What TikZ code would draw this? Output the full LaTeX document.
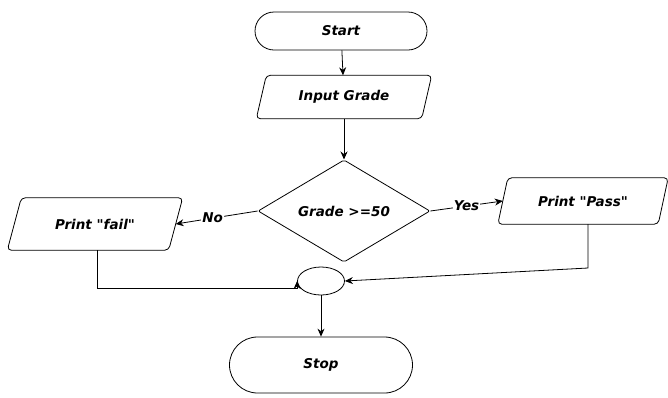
\documentclass[tikz,border=0pt]{standalone}
\usepackage{fontspec}
\setmainfont{DejaVu Sans}
\usetikzlibrary{shapes.geometric,shapes.misc,arrows.meta}
\begin{document}
\begin{tikzpicture}[x=1pt,y=-1pt,
  every node/.style={font=\bfseries\itshape\fontsize{13.5}{15}\selectfont},
  term/.style={draw,thick,rounded rectangle,inner sep=0pt},
  io/.style={inner sep=0pt},
  decision/.style={draw,thick,diamond,inner sep=0pt,rounded corners=2pt},
  joint/.style={draw,thick,ellipse,inner sep=0pt,minimum width=47pt,minimum height=28pt},
  slanted/.style={thick,rounded corners=4pt},
  flow/.style={thick,-{Stealth[length=8pt,width=7pt]}},
  lbl/.style={fill=white,inner sep=1pt}]
\useasboundingbox (0,0) rectangle (668,397);
\fill[white] (0,0) rectangle (668,397);

\node[term,minimum width=172pt,minimum height=38pt] (start) at (341,31) {Start};
\node[io,minimum width=165pt,minimum height=43pt] (input) at (344,97) {Input Grade};
\node[decision,minimum width=172pt,minimum height=102pt] (dec) at (344,211) {Grade >=50};
\node[io,minimum width=161pt,minimum height=52pt] (fail) at (95,224) {Print \textquotedbl fail\textquotedbl};
\node[io,minimum width=160pt,minimum height=46pt] (pass) at (583,201) {Print \textquotedbl Pass\textquotedbl};
\node[joint] (join) at (321,281) {};
\node[term,minimum width=183pt,minimum height=56pt] (stop) at (321,365) {Stop};

% input/output boxes drawn as parallelograms around their nodes
\foreach \n/\s in {input/5,fail/7,pass/5}
  \draw[slanted] ([xshift=\s pt]\n.north west) -- ([xshift=\s pt]\n.north east)
    -- ([xshift=-\s pt]\n.south east) -- ([xshift=-\s pt]\n.south west) -- cycle;

\draw[flow] (start) -- (input);
\draw[flow] (input) -- (dec);
\draw[flow] (dec.west) -- node[lbl,pos=0.55] {No} (fail.east);
\draw[flow] (dec.east) -- node[lbl,pos=0.5] {Yes} (pass.west);
\coordinate (failturn) at (97,288);
\coordinate (passturn) at (588,268);
\draw[flow] (fail.south -| failturn) -- (failturn) -- (failturn -| join.west) -- (join.west);
\draw[flow] (pass.south -| passturn) -- (passturn) -- (join.east);
\draw[flow] (join) -- (stop);
\end{tikzpicture}
\end{document}
